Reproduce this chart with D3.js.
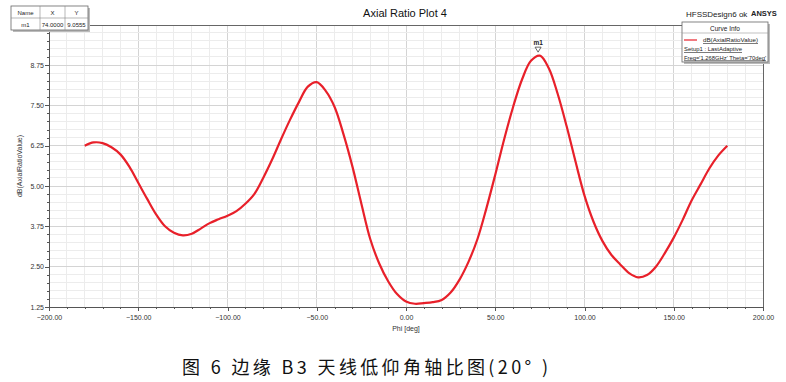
<!DOCTYPE html>
<html><head><meta charset="utf-8">
<script src="https://cdn.jsdelivr.net/npm/d3@7"></script>
<style>body{margin:0;background:#fff}svg{display:block}</style>
</head><body>
<svg id="c" width="786" height="382"></svg>
<script>
const phi = [-180,-175,-170,-165,-160,-155,-150,-145,-140,-135,-130,-125,-120,-115,-110,-105,-100,-95,-90,-85,-80,-75,-70,-65,-60,-55,-50,-45,-40,-35,-30,-25,-20,-15,-10,-5,0,5,10,15,20,25,30,35,40,45,50,55,60,65,70,75,80,85,90,95,100,105,110,115,120,125,130,135,140,145,150,155,160,165,170,175,180];
const ar  = [6.25,6.35,6.33,6.2,5.98,5.6,5.1,4.6,4.12,3.75,3.55,3.47,3.52,3.68,3.85,3.97,4.08,4.22,4.45,4.75,5.25,5.82,6.45,7.05,7.6,8.08,8.22,7.95,7.45,6.6,5.6,4.45,3.35,2.6,2.05,1.65,1.42,1.35,1.37,1.4,1.47,1.7,2.1,2.65,3.35,4.3,5.35,6.45,7.45,8.3,8.88,9.04,8.65,7.85,6.85,5.75,4.7,3.9,3.3,2.87,2.57,2.3,2.17,2.24,2.5,2.92,3.4,3.95,4.55,5.05,5.55,5.95,6.25];
const xTicks = [-200,-150,-100,-50,0,50,100,150,200];
const yTicks = [1.25,2.5,3.75,5.0,6.25,7.5,8.75];
const markerName = "m1", markerX = 74.0, markerY = 9.0555;
const caption = "图 6 边缘 B3 天线低仰角轴比图(20° )";

const svg = d3.select("#c");
const F = "Arial, 'Liberation Sans', sans-serif";
const L = 49, R = 763, T = 25, B = 307;
const x = d3.scaleLinear().domain([-200,200]).range([L,R]);
const y = d3.scaleLinear().domain([1.25,8.75]).range([B,65]);

// grid
const g = svg.append("g");
for (let v=-200; v<=200; v+=10){
  g.append("line").attr("x1",x(v)).attr("x2",x(v)).attr("y1",T).attr("y2",B)
   .attr("stroke", v%50===0 ? "#d4d4d4" : "#ececec").attr("stroke-width",1).attr("shape-rendering","crispEdges");
}
for (let i=0;; i++){
  const v = 1.25 + i*0.25; const py = y(v); if (py < T) break;
  g.append("line").attr("x1",L).attr("x2",R).attr("y1",py).attr("y2",py)
   .attr("stroke", i%5===0 ? "#d4d4d4" : "#ececec").attr("stroke-width",1).attr("shape-rendering","crispEdges");
}
// borders
svg.append("line").attr("x1",L).attr("x2",R).attr("y1",T).attr("y2",T).attr("stroke","#666").attr("shape-rendering","crispEdges");
svg.append("line").attr("x1",R).attr("x2",R).attr("y1",T).attr("y2",B).attr("stroke","#666").attr("shape-rendering","crispEdges");

// axes
const xAxis = d3.axisBottom(x).tickValues(xTicks).tickFormat(d3.format(".2f")).tickSize(4).tickSizeOuter(0);
const xa = svg.append("g").attr("transform",`translate(0,${B})`).call(xAxis);
const xMinor = d3.axisBottom(x).tickValues(d3.range(-200,201,10).filter(v=>v%50!==0)).tickFormat("").tickSize(2).tickSizeOuter(0);
svg.append("g").attr("transform",`translate(0,${B})`).call(xMinor).select(".domain").remove();
const yAxis = d3.axisLeft(y).tickValues(yTicks).tickFormat(d3.format(".2f")).tickSize(4).tickSizeOuter(0);
const ya = svg.append("g").attr("transform",`translate(${L},0)`).call(yAxis);
const yMinorV = []; for (let i=0;i<=35;i++){const v=1.25+i*0.25; if(i%5!==0 && y(v)>=T) yMinorV.push(v);}
svg.append("g").attr("transform",`translate(${L},0)`).call(d3.axisLeft(y).tickValues(yMinorV).tickFormat("").tickSize(2).tickSizeOuter(0)).select(".domain").remove();
ya.select(".domain").attr("d",`M0,${B}V${T}`);
svg.selectAll(".domain").attr("stroke","#555").attr("shape-rendering","crispEdges");
svg.selectAll(".tick line").attr("stroke","#555").attr("shape-rendering","crispEdges");
svg.selectAll(".tick text").attr("font-family",F).attr("font-size",7).attr("fill","#333");
ya.selectAll(".tick text").attr("x",-5);
xa.selectAll(".tick text").attr("y",8);

// axis labels
svg.append("text").attr("x",406).attr("y",331).attr("text-anchor","middle").attr("font-family",F).attr("font-size",7).attr("fill","#333").text("Phi [deg]");
svg.append("text").attr("transform","translate(22,166) rotate(-90)").attr("text-anchor","middle").attr("font-family",F).attr("font-size",7).attr("fill","#333").text("dB(AxialRatioValue)");

// curve
const data = phi.map((p,i)=>({p, v:ar[i]}));
svg.append("path").datum(data).attr("fill","none").attr("stroke","#e8202a").attr("stroke-width",2.2)
  .attr("d", d3.line().x(d=>x(d.p)).y(d=>y(d.v)).curve(d3.curveCatmullRom.alpha(0.5)));

// marker
const mx = x(markerX), my = y(markerY);
svg.append("path").attr("d",`M${mx-3},${my-8}L${mx+3},${my-8}L${mx},${my-3}Z`).attr("fill","#fff").attr("stroke","#444").attr("stroke-width",0.8);
svg.append("text").attr("x",mx).attr("y",my-10).attr("text-anchor","middle").attr("font-family",F).attr("font-size",6.5).attr("font-weight","bold").attr("fill","#222").text(markerName);

// title
svg.append("text").attr("x",405).attr("y",17).attr("text-anchor","middle").attr("font-family",F).attr("font-size",11).attr("fill","#111").text("Axial Ratio Plot 4");
svg.append("text").attr("x",686).attr("y",17).attr("font-family",F).attr("font-size",8).attr("fill","#222").text("HFSSDesign6 ok");
svg.append("text").attr("x",751).attr("y",16).attr("font-family",F).attr("font-size",7.5).attr("font-weight","bold").attr("fill","#222").text("ANSYS");

// marker table
const tb = svg.append("g");
tb.append("rect").attr("x",13).attr("y",8).attr("width",77).attr("height",24).attr("fill","#bbb");
tb.append("rect").attr("x",11).attr("y",6).attr("width",77).attr("height",24).attr("fill","#fff").attr("stroke","#666").attr("stroke-width",0.8);
tb.append("line").attr("x1",11).attr("x2",88).attr("y1",18).attr("y2",18).attr("stroke","#888").attr("stroke-width",0.6);
[40,65].forEach(cx=>tb.append("line").attr("x1",cx).attr("x2",cx).attr("y1",6).attr("y2",30).attr("stroke","#888").attr("stroke-width",0.6));
const tt = (t,cx,cy)=>tb.append("text").attr("x",cx).attr("y",cy).attr("text-anchor","middle").attr("font-family",F).attr("font-size",6).attr("fill","#222").text(t);
tt("Name",25.5,14.5); tt("X",52.5,14.5); tt("Y",76.5,14.5);
tt(markerName,25.5,27); tt(markerX.toFixed(4),52.5,27); tt(markerY.toFixed(4),76.5,27);

// legend
const lg = svg.append("g");
lg.append("rect").attr("x",684).attr("y",24).attr("width",86).attr("height",40).attr("fill","#bbb");
lg.append("rect").attr("x",682).attr("y",22).attr("width",86).attr("height",40).attr("fill","#fff").attr("stroke","#666").attr("stroke-width",0.8);
lg.append("line").attr("x1",682).attr("x2",768).attr("y1",33).attr("y2",33).attr("stroke","#999").attr("stroke-width",0.6);
lg.append("text").attr("x",725).attr("y",30.5).attr("text-anchor","middle").attr("font-family",F).attr("font-size",6.5).attr("fill","#222").text("Curve Info");
lg.append("line").attr("x1",684).attr("x2",697).attr("y1",40).attr("y2",40).attr("stroke","#e8202a").attr("stroke-width",1.2);
const lt = (t,lx,ly,w)=>lg.append("text").attr("x",lx).attr("y",ly).attr("font-family",F).attr("font-size",6).attr("fill","#222").attr("text-decoration","underline").attr("textLength",w).attr("lengthAdjust","spacingAndGlyphs").text(t);
lt("dB(AxialRatioValue)",703,42,55); lt("Setup1 : LastAdaptive",684,51,58); lt("Freq='1.268GHz' Theta='70deg'",684,59.5,82);

// caption
svg.append("text").attr("x",182).attr("y",374).attr("font-family","'Noto Sans CJK SC', sans-serif").attr("font-size",18).attr("fill","#111")
  .attr("textLength",366).attr("lengthAdjust","spacing").text(caption);
</script>
</body></html>
